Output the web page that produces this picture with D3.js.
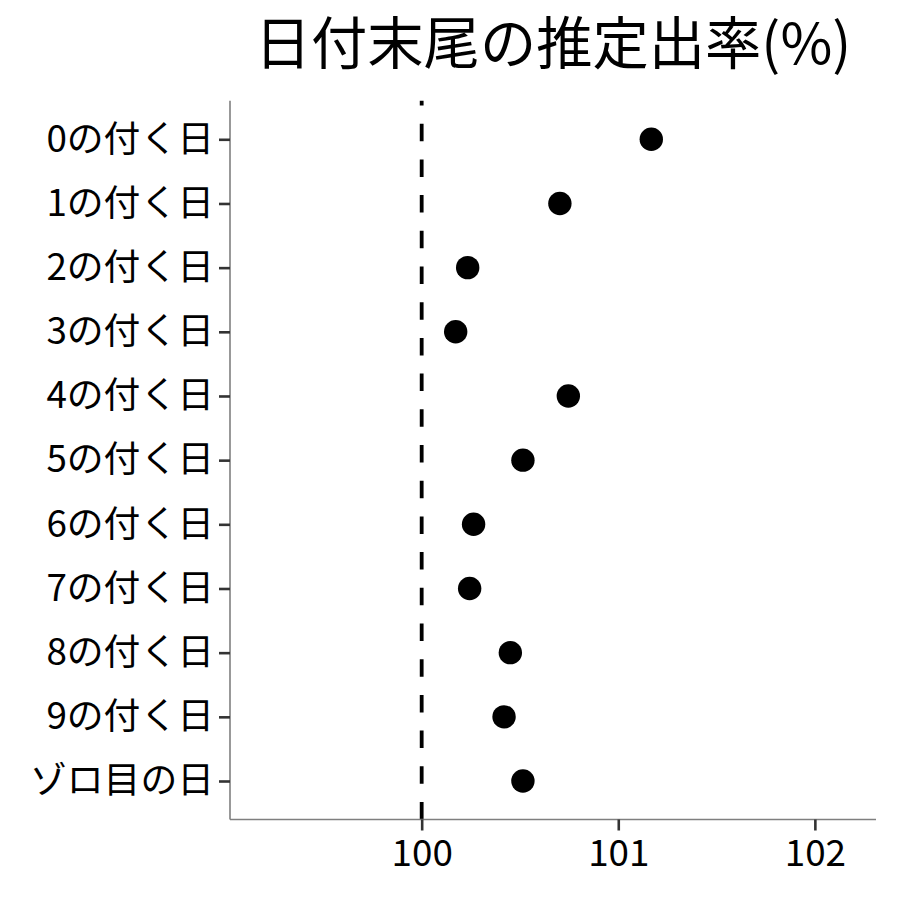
<!DOCTYPE html>
<html>
<head>
<meta charset="utf-8">
<script src="https://cdn.jsdelivr.net/npm/d3@7"></script>
<style>
  html, body { margin: 0; padding: 0; background: #fff; }
  svg { display: block; font-family: "Noto Sans CJK JP", "Noto Sans", sans-serif; }
</style>
</head>
<body>
<svg id="chart" width="900" height="900"></svg>
<script>
const categories = ["0の付く日","1の付く日","2の付く日","3の付く日","4の付く日","5の付く日","6の付く日","7の付く日","8の付く日","9の付く日","ゾロ目の日"];
const values = [101.168, 100.703, 100.234, 100.173, 100.746, 100.515, 100.264, 100.244, 100.451, 100.419, 100.515];
const xTicks = [100, 101, 102];
const refValue = 100;
const title = "日付末尾の推定出率(%)";

const svg = d3.select("#chart");
const pLeft = 230, pRight = 876, pTop = 100.8, pBottom = 819.5;

const x = d3.scaleLinear().domain([99.025, 102.311]).range([pLeft, pRight]);
const y = d3.scalePoint().domain(categories).range([pTop, pBottom]).padding(0.6);

// title
svg.append("text")
  .attr("x", (pLeft + pRight) / 2)
  .attr("y", 64)
  .attr("text-anchor", "middle")
  .attr("font-size", 56.3)
  .attr("fill", "#000")
  .text(title);

// reference dashed line (drawn bottom to top)
svg.append("line")
  .attr("x1", x(refValue)).attr("x2", x(refValue))
  .attr("y1", pBottom).attr("y2", pTop)
  .attr("stroke", "#000")
  .attr("stroke-width", 3.8)
  .attr("stroke-dasharray", "17.5,18.2");

// x axis
const xAxis = svg.append("g")
  .attr("transform", `translate(0,${pBottom})`)
  .call(d3.axisBottom(x).tickValues(xTicks).tickSize(11).tickPadding(9).tickFormat(d3.format("d")));
xAxis.select(".domain").attr("stroke", "#7f7f7f").attr("stroke-width", 1.6).attr("d", `M${pLeft},0H${pRight}`);
xAxis.selectAll(".tick line").attr("stroke", "#333").attr("stroke-width", 2.6);
xAxis.selectAll(".tick text").attr("font-size", 36.8).attr("fill", "#000").attr("font-family", "'Noto Sans CJK JP', sans-serif");

// y axis
const yAxis = svg.append("g")
  .attr("transform", `translate(${pLeft},0)`)
  .call(d3.axisLeft(y).tickSize(11).tickPadding(5));
yAxis.select(".domain").attr("stroke", "#7f7f7f").attr("stroke-width", 1.6).attr("d", `M0,${pTop}V${pBottom}`);
yAxis.selectAll(".tick line").attr("stroke", "#333").attr("stroke-width", 2.6);
yAxis.selectAll(".tick text").attr("font-size", 36.8).attr("fill", "#000").attr("font-family", "'Noto Sans CJK JP', sans-serif");

// points
svg.append("g").selectAll("circle")
  .data(categories.map((c, i) => ({c, v: values[i]})))
  .join("circle")
  .attr("cx", d => x(d.v))
  .attr("cy", d => y(d.c))
  .attr("r", 11.7)
  .attr("fill", "#000");
</script>
</body>
</html>
